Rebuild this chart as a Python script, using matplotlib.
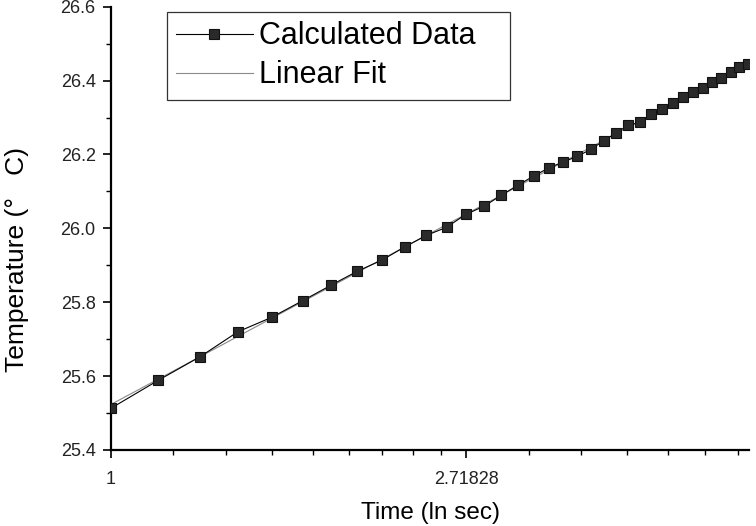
import numpy as np
import matplotlib
matplotlib.use("Agg")
import matplotlib.pyplot as plt
from matplotlib.ticker import FixedLocator, NullFormatter

plt.rcParams['font.family'] = ['Liberation Sans', 'DejaVu Sans']

# Time (s), plotted on a natural-log axis
time_s = [1.000, 1.143, 1.286, 1.429, 1.571, 1.714, 1.857, 2.000, 2.143, 2.286,
          2.429, 2.571, 2.714, 2.857, 3.000, 3.143, 3.286, 3.429, 3.571, 3.714,
          3.857, 4.000, 4.143, 4.286, 4.429, 4.571, 4.714, 4.857, 5.000, 5.143,
          5.286, 5.429, 5.571, 5.714, 5.857, 6.000]
# Calculated temperature (deg C)
temperature = [25.513, 25.589, 25.653, 25.720, 25.759, 25.804, 25.846, 25.884, 25.914, 25.950,
               25.981, 26.003, 26.038, 26.060, 26.090, 26.117, 26.142, 26.164, 26.180, 26.195,
               26.214, 26.237, 26.259, 26.279, 26.287, 26.310, 26.322, 26.339, 26.355, 26.370,
               26.379, 26.395, 26.408, 26.422, 26.438, 26.445]

x_major = [1.0, 2.71828]
x_major_labels = ["1", "2.71828"]
x_minor = [1.191, 1.382, 1.573, 1.764, 1.955, 2.146, 2.337, 2.528,
           3.237, 3.756, 4.275, 4.794, 5.313, 5.832]
y_major = [25.4, 25.6, 25.8, 26.0, 26.2, 26.4, 26.6]
y_minor = [25.5, 25.7, 25.9, 26.1, 26.3, 26.5]

t = np.array(time_s)
T = np.array(temperature)
slope, intercept = np.polyfit(np.log(t), T, 1)
fit = intercept + slope * np.log(t)

fig = plt.figure(figsize=(7.56, 5.26), dpi=100)
ax = fig.add_axes([0.1468, 0.1445, 0.8440, 0.8427])

ax.plot(t, fit, color='#8a8a8a', lw=0.8, label='Linear Fit', zorder=2)
ax.plot(t, T, color='black', lw=0.8, marker='s', markersize=6.5,
        markerfacecolor='#2a2a2a', markeredgecolor='#111111', markeredgewidth=0.8,
        label='Calculated Data', zorder=3)

ax.set_xscale('log', base=np.e)
ax.set_xlim(1.0, 6.02)
ax.set_ylim(25.4, 26.6)

ax.set_xticks(x_major)
ax.set_xticklabels(x_major_labels)
ax.xaxis.set_minor_locator(FixedLocator(x_minor))
ax.xaxis.set_minor_formatter(NullFormatter())
ax.set_yticks(y_major)
ax.set_yticklabels([f"{v:.1f}" for v in y_major])
ax.yaxis.set_minor_locator(FixedLocator(y_minor))

for s in ['top', 'right']:
    ax.spines[s].set_visible(False)
for s in ['left', 'bottom']:
    ax.spines[s].set_linewidth(1.6)

ax.tick_params(axis='both', which='major', direction='out', length=6, width=1.2,
               labelsize=13, colors='black', labelcolor='#222222')
ax.tick_params(axis='both', which='minor', direction='out', length=3.5, width=1.0)
ax.tick_params(axis='x', which='major', pad=9)
ax.tick_params(axis='y', which='major', pad=5)

ax.set_xlabel('Time (ln sec)', fontsize=17.5, labelpad=10)
ax.set_ylabel('Temperature (°   C)', fontsize=19)
ax.yaxis.set_label_coords(-0.128, 0.43)

handles, labels = ax.get_legend_handles_labels()
leg = ax.legend(handles[::-1], labels[::-1], loc='upper left',
                bbox_to_anchor=(0.088, 0.0, 0.538, 0.988), mode='expand',
                fontsize=22, frameon=True,
                fancybox=False, edgecolor='black', handlelength=2.5,
                handletextpad=0.2, borderpad=0.3, labelspacing=0.3,
                borderaxespad=0)
leg.get_frame().set_linewidth(0.9)

fig.savefig('out.png', dpi=100)
